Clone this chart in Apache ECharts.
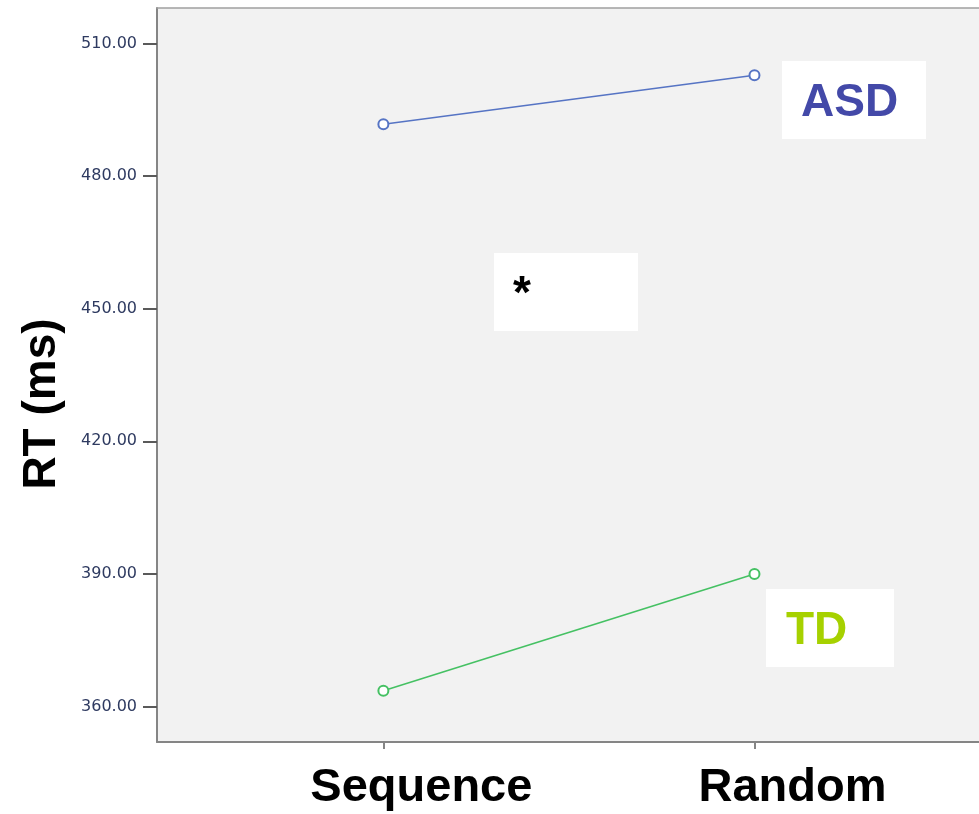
<!DOCTYPE html>
<html>
<head>
<meta charset="utf-8">
<script src="https://cdn.jsdelivr.net/npm/echarts@6/dist/echarts.min.js"></script>
<style>
html,body{margin:0;padding:0;background:#fff;}
#main{width:979px;height:814px;}
</style>
</head>
<body>
<div id="main"></div>
<script>
const categories = ['Sequence', 'Random'];
const categoryPositions = [1, 2];
const asdValues = [491.7, 502.8];
const tdValues = [363.6, 390.0];
const yTickValues = [360, 390, 420, 450, 480, 510];
const seriesNames = ['ASD', 'TD'];

const chart = echarts.init(document.getElementById('main'), null, {renderer: 'canvas'});
const font = '"Liberation Sans", Arial, sans-serif';

function pairs(vals) { return vals.map((v, i) => [categoryPositions[i], v]); }

chart.setOption({
  backgroundColor: '#ffffff',
  animation: false,
  grid: {
    left: 157, top: 8, bottom: 72, right: 0,
    show: true, backgroundColor: '#f2f2f2', borderWidth: 0
  },
  xAxis: [
    {
      type: 'value', min: 0.39, max: 2.605,
      splitLine: {show: false},
      axisLine: {show: true, lineStyle: {color: '#858585', width: 2}},
      axisTick: {show: true, customValues: categoryPositions, length: 7, lineStyle: {color: '#858585', width: 2}},
      axisLabel: {
        customValues: categoryPositions,
        formatter: v => categories[categoryPositions.indexOf(v)] || '',
        fontFamily: font, fontWeight: 'bold', fontSize: 47, color: '#000',
        margin: 23, padding: [0, 0, 0, 76]
      }
    },
    {
      type: 'value', position: 'top', min: 0.39, max: 2.605,
      splitLine: {show: false},
      axisLine: {show: true, lineStyle: {color: '#a0a0a0', width: 1.5}},
      axisTick: {show: false},
      axisLabel: {show: false}
    }
  ],
  yAxis: {
    type: 'value', min: 352, max: 518,
    name: 'RT (ms)', nameLocation: 'middle', nameGap: 92,
    nameTextStyle: {fontFamily: font, fontWeight: 'bold', fontSize: 46, color: '#000', padding: [0, 58, 0, 0]},
    splitLine: {show: false},
    axisLine: {show: true, lineStyle: {color: '#858585', width: 2}},
    axisTick: {show: true, customValues: yTickValues, length: 14, lineStyle: {color: '#5a5a5a', width: 2}},
    axisLabel: {
      customValues: yTickValues,
      formatter: v => v.toFixed(2),
      fontFamily: '"DejaVu Sans", Verdana, sans-serif', fontSize: 16, color: '#2e3a60',
      margin: 20
    }
  },
  series: [
    {
      name: seriesNames[0], type: 'line', data: pairs(asdValues),
      symbol: 'emptyCircle', symbolSize: 10,
      lineStyle: {color: '#5674c4', width: 1.6},
      itemStyle: {color: '#5674c4', borderWidth: 1.8}
    },
    {
      name: seriesNames[1], type: 'line', data: pairs(tdValues),
      symbol: 'emptyCircle', symbolSize: 10,
      lineStyle: {color: '#45c163', width: 1.6},
      itemStyle: {color: '#45c163', borderWidth: 1.8}
    }
  ],
  graphic: [
    {type: 'rect', left: 782, top: 61, shape: {width: 144, height: 78}, style: {fill: '#ffffff'}, z: 10},
    {type: 'text', left: 801, top: 80, style: {text: 'ASD', fill: '#4349a8', font: 'bold 46px ' + font}, z: 11},
    {type: 'rect', left: 766, top: 589, shape: {width: 128, height: 78}, style: {fill: '#ffffff'}, z: 10},
    {type: 'text', left: 786, top: 608, style: {text: 'TD', fill: '#a6d100', font: 'bold 46px ' + font}, z: 11},
    {type: 'rect', left: 494, top: 253, shape: {width: 144, height: 78}, style: {fill: '#ffffff'}, z: 10},
    {type: 'text', left: 513, top: 272, style: {text: '*', fill: '#000000', font: 'bold 46px ' + font}, z: 11}
  ]
});
</script>
</body>
</html>
